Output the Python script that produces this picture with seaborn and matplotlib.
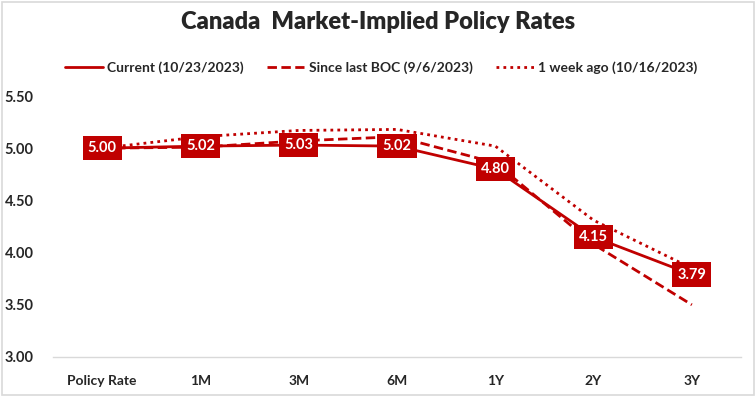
import numpy as np
import pandas as pd
import seaborn as sns
import matplotlib.pyplot as plt
from matplotlib.patches import Rectangle

# ############### Data ###############
tenors = ['Policy Rate', '1M', '3M', '6M', '1Y', '2Y', '3Y']
current = [5.00, 5.02, 5.03, 5.02, 4.80, 4.15, 3.79]
since_boc = [5.00, 5.01, 5.07, 5.11, 4.86, 4.08, 3.50]
week_ago = [5.00, 5.11, 5.17, 5.18, 5.02, 4.31, 3.85]
y_ticks = [3.00, 3.50, 4.00, 4.50, 5.00, 5.50]

series_names = ['Current (10/23/2023)', 'Since last BOC (9/6/2023)', '1 week ago (10/16/2023)']

red = '#C00000'

sns.set_style('white')
plt.rcParams['font.family'] = ['Lato', 'DejaVu Sans']

df = pd.DataFrame({'tenor': tenors, 'pos': np.arange(len(tenors)),
                   series_names[0]: current, series_names[1]: since_boc, series_names[2]: week_ago})

fig = plt.figure(figsize=(7.56, 3.96), dpi=100)
ax = fig.add_axes([53 / 756, 1 - 357 / 396, 688 / 756, 261 / 396])

sns.lineplot(data=df, x='pos', y=series_names[0], ax=ax, color=red, lw=2.0,
             label=series_names[0], zorder=4)
sns.lineplot(data=df, x='pos', y=series_names[1], ax=ax, color=red, lw=2.0,
             label=series_names[1], zorder=3)
sns.lineplot(data=df, x='pos', y=series_names[2], ax=ax, color=red, lw=2.0,
             label=series_names[2], zorder=2)
ax.lines[1].set_dashes((3.4, 1.6))
ax.lines[2].set_dashes((1.0, 1.5))

# data labels on the current curve
for i, v in enumerate(current):
    ax.text(i, v, f'{v:.2f}', ha='center', va='center', color='white', fontsize=10.5,
            fontweight='bold', zorder=6,
            bbox=dict(boxstyle='square,pad=0.35', fc=red, ec='none'))

ax.set_xlim(-0.5, len(tenors) - 0.5)
ax.set_ylim(3.0, 5.5)
ax.set_xticks(np.arange(len(tenors)))
ax.set_xticklabels(tenors, fontweight='bold', fontsize=10)
ax.set_yticks(y_ticks)
ax.set_yticklabels([f'{t:.2f}' for t in y_ticks], fontweight='bold', fontsize=10.5)
ax.tick_params(axis='x', length=0, pad=13)
ax.tick_params(axis='y', length=0, pad=14)
ax.set_xlabel('')
ax.set_ylabel('')
for s in ['top', 'right', 'left']:
    ax.spines[s].set_visible(False)
ax.spines['bottom'].set_color('#D9D9D9')
ax.spines['bottom'].set_linewidth(1.0)

ax.legend(loc='center', bbox_to_anchor=(381 / 756, 1 - 68 / 396), bbox_transform=fig.transFigure,
          ncol=3, frameon=False, handlelength=2.7, columnspacing=1.7, handletextpad=0.3,
          prop={'weight': 'bold', 'size': 10})

fig.text(378 / 756, 1 - 22 / 396, 'Canada  Market-Implied Policy Rates', ha='center', va='center',
         fontsize=17, fontweight='heavy')

fig.patches.append(Rectangle((0.002, 0.003), 0.995, 0.993, transform=fig.transFigure,
                             fill=False, ec='#D9D9D9', lw=1.2))

plt.savefig('out.png', dpi=100)
plt.close('all')
